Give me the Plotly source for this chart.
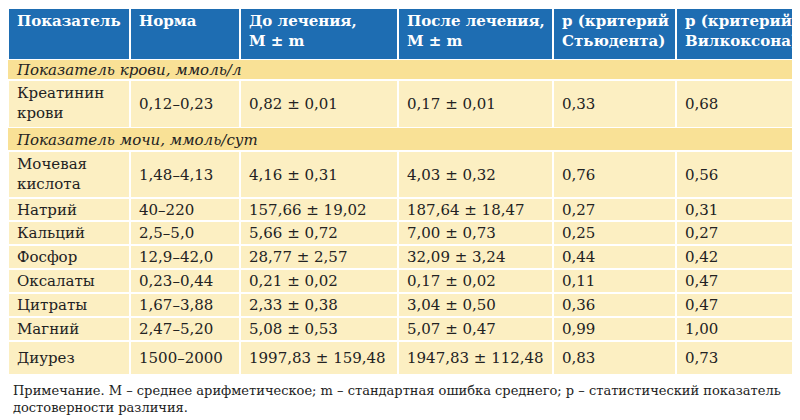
import plotly.graph_objects as go

headers = ["Показатель", "Норма", "До лечения,<br>M ± m", "После лечения,<br>M ± m",
           "p (критерий<br>Стьюдента)", "p (критерий<br>Вилкоксона)"]
sections = {0: "Показатель крови, ммоль/л", 2: "Показатель мочи, ммоль/сут"}
names = ["Креатинин<br>крови", "Мочевая<br>кислота", "Натрий", "Кальций", "Фосфор",
         "Оксалаты", "Цитраты", "Магний", "Диурез"]
norma = ["0,12–0,23", "1,48–4,13", "40–220", "2,5–5,0", "12,9–42,0", "0,23–0,44",
         "1,67–3,88", "2,47–5,20", "1500–2000"]
before = ["0,82 ± 0,01", "4,16 ± 0,31", "157,66 ± 19,02", "5,66 ± 0,72", "28,77 ± 2,57",
          "0,21 ± 0,02", "2,33 ± 0,38", "5,08 ± 0,53", "1997,83 ± 159,48"]
after = ["0,17 ± 0,01", "4,03 ± 0,32", "187,64 ± 18,47", "7,00 ± 0,73", "32,09 ± 3,24",
         "0,17 ± 0,02", "3,04 ± 0,50", "5,07 ± 0,47", "1947,83 ± 112,48"]
p_student = ["0,33", "0,76", "0,27", "0,25", "0,44", "0,11", "0,36", "0,99", "0,83"]
p_wilcoxon = ["0,68", "0,56", "0,31", "0,27", "0,42", "0,47", "0,47", "1,00", "0,73"]
footnote = ("Примечание. M – среднее арифметическое; m – стандартная ошибка среднего; p – статистический показатель<br>"
            "достоверности различия.")

col_x = [0, 122, 232, 390, 545, 668, 800]
rows = [("h", None, 0, 52), ("s", 0, 52, 72), ("d", 0, 72, 120), ("s", 2, 120, 143),
        ("d", 1, 143, 190), ("d", 2, 190, 213), ("d", 3, 213, 237), ("d", 4, 237, 261),
        ("d", 5, 261, 285), ("d", 6, 285, 309), ("d", 7, 309, 333), ("d", 8, 333, 367)]

BLUE = "#1e6db2"; SEC = "#f9e196"; DATA = "#fcefc2"
FONT = "DejaVu Serif, Liberation Serif, serif"
shapes, ann = [], []
for kind, i, t, b in rows:
    if kind == "s":
        shapes.append(dict(type="rect", x0=0, x1=800, y0=t, y1=b, fillcolor=SEC, line_width=0, layer="below"))
        ann.append(dict(x=6, y=(t + b) / 2, text=f"<i>{sections[i]}</i>", xanchor="left", yanchor="middle",
                        showarrow=False, font=dict(family=FONT, size=15, color="#222")))
        shapes.append(dict(type="line", x0=0, x1=800, y0=b, y1=b, line=dict(color="white", width=2)))
        continue
    vals = headers if kind == "h" else [names[i], norma[i], before[i], after[i], p_student[i], p_wilcoxon[i]]
    for c in range(6):
        shapes.append(dict(type="rect", x0=col_x[c], x1=col_x[c + 1], y0=t, y1=b,
                           fillcolor=BLUE if kind == "h" else DATA,
                           line=dict(color="white", width=2), layer="below"))
        txt = f"<b>{vals[c]}</b>" if kind == "h" else vals[c]
        multi = "<br>" in vals[c] or kind == "h"
        ann.append(dict(x=col_x[c] + 7, y=t + 2 if multi else (t + b) / 2, text=txt, xanchor="left",
                        yanchor="top" if multi else "middle", align="left", showarrow=False,
                        font=dict(family=FONT, size=15, color="white" if kind == "h" else "#222")))
ann.append(dict(x=3, y=373, text=footnote, xanchor="left", yanchor="top", align="left", showarrow=False,
                font=dict(family=FONT, size=13, color="#222")))

fig = go.Figure()
fig.update_layout(width=800, height=420, margin=dict(l=0, r=0, t=0, b=0), plot_bgcolor="white",
                  paper_bgcolor="white", shapes=shapes, annotations=ann, showlegend=False,
                  xaxis=dict(range=[0, 800], visible=False, fixedrange=True),
                  yaxis=dict(range=[420, 0], visible=False, fixedrange=True))
fig.write_html("out.html")
